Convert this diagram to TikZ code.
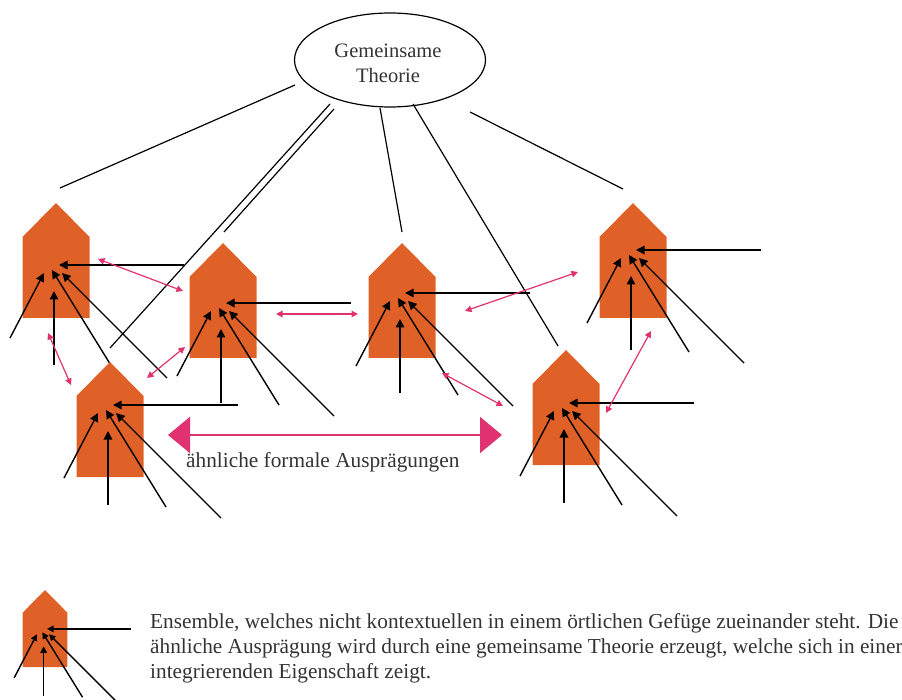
\documentclass[tikz,border=0pt]{standalone}
\usepackage{fontspec}
\setmainfont{Liberation Serif}
\usetikzlibrary{arrows.meta,shapes.geometric}

\definecolor{houseorange}{RGB}{224,97,40}
\definecolor{linkpink}{RGB}{224,50,110}

\tikzset{
  housebody/.style={fill=houseorange},
  fanarrow/.style={black, line width=1.4pt, -{Triangle[length=#1,width=#1]}},
  fanarrow/.default=8.5pt,
  tieline/.style={black, line width=1.2pt},
  pinklink/.style={linkpink, line width=1.2pt,
    {Triangle[length=6.5pt,width=6.5pt]}-{Triangle[length=6.5pt,width=6.5pt]}},
  bigpink/.style={linkpink, line width=2pt,
    {Triangle[length=22pt,width=36pt]}-{Triangle[length=22pt,width=36pt]}},
  theory/.style={draw, ellipse, line width=1.2pt, minimum width=191pt,
    minimum height=94pt, inner sep=0pt},
  caption/.style={font=\fontsize{21.3pt}{25pt}\selectfont, text=black!80, inner sep=0pt}
}

% One house: name, apex x, apex y, height of the fan, scale, arrow head size
\newcommand\drawhouse[6]{%
  \begin{scope}[shift={(#2,#3)},scale=#5]
    \fill[housebody] (-33.5,34) -- (0,0) -- (33.5,34) -- (33.5,115) -- (-33.5,115) -- cycle;
    \coordinate (#1-hs) at (128,#4);     \coordinate (#1-ht) at (3,#4);
    \coordinate (#1-ls) at (-46,#4+73);  \coordinate (#1-lt) at (-12,#4+8);
    \coordinate (#1-vs) at (-2,#4+100);  \coordinate (#1-vt) at (-2,#4+26);
    \coordinate (#1-as) at (56,#4+102);  \coordinate (#1-at) at (-4,#4+5);
    \coordinate (#1-bs) at (111,#4+113); \coordinate (#1-bt) at (6,#4+8);
    \foreach \s in {h,l,v,a,b}
      \draw[fanarrow=#6] (#1-\s s) -- (#1-\s t);
  \end{scope}}

\begin{document}
\begin{tikzpicture}[x=1pt,y=-1pt]
  \useasboundingbox (0,0) rectangle (902,700);
  \clip (0,0) rectangle (902,700);

  % the shared theory
  \node[theory] (theo) at (390,60) {};
  \node[align=center, text=black!80, inner sep=0pt,
        font=\fontsize{20.5pt}{25pt}\selectfont] (theotext) at (388,63)
    {Gemeinsame\\Theorie};

  % houses
  \drawhouse{ha}{56}{203}{62}{1}{8.5pt}
  \drawhouse{hb}{223}{243}{60}{1}{8.5pt}
  \drawhouse{hc}{402}{243}{50}{1}{8.5pt}
  \drawhouse{hd}{633}{203}{47}{1}{8.5pt}
  \drawhouse{he}{110}{362}{43}{1}{8.5pt}
  \drawhouse{hf}{566}{350}{53}{1}{8.5pt}

  % ties from the theory down to the houses
  \coordinate (t1a) at (295,85);  \coordinate (t1b) at (60,188);
  \coordinate (t2a) at (330,104); \coordinate (t2b) at (110,348);
  \coordinate (t3a) at (334,109); \coordinate (t3b) at (224,232);
  \coordinate (t4a) at (380,108); \coordinate (t4b) at (402,232);
  \coordinate (t5a) at (413,104); \coordinate (t5b) at (558,346);
  \coordinate (t6a) at (470,112); \coordinate (t6b) at (623,189);
  \foreach \i in {1,...,6}
    \draw[tieline] (t\i a) -- (t\i b);

  % pink links between neighbouring houses
  \coordinate (p1a) at (98,259);  \coordinate (p1b) at (183,291);
  \coordinate (p2a) at (48,333);  \coordinate (p2b) at (71,385);
  \coordinate (p3a) at (147,378); \coordinate (p3b) at (185,347);
  \coordinate (p4a) at (276,314); \coordinate (p4b) at (358,314);
  \coordinate (p5a) at (465,311); \coordinate (p5b) at (578,272);
  \coordinate (p6a) at (442,373); \coordinate (p6b) at (503,406);
  \coordinate (p7a) at (606,413); \coordinate (p7b) at (651,331);
  \foreach \i in {1,...,7}
    \draw[pinklink] (p\i a) -- (p\i b);

  % similar formal features
  \coordinate (simL) at (168,435);
  \coordinate (simR) at (502,435);
  \draw[bigpink] (simL) -- (simR);
  \node[caption, anchor=base west] (simtext) at (186,467)
    {ähnliche formale Ausprägungen};

  % legend
  \drawhouse{hl}{45}{590}{58}{0.67}{6.5pt}
  \node[caption, anchor=base west] (leg1) at (150,628)
    {Ensemble, welches nicht kontextuellen in einem örtlichen Gefüge zueinander steht. Die};
  \node[caption, anchor=base west] (leg2) at (150,653)
    {ähnliche Ausprägung wird durch eine gemeinsame Theorie erzeugt, welche sich in einer};
  \node[caption, anchor=base west] (leg3) at (150,678)
    {integrierenden Eigenschaft zeigt.};
\end{tikzpicture}
\end{document}
